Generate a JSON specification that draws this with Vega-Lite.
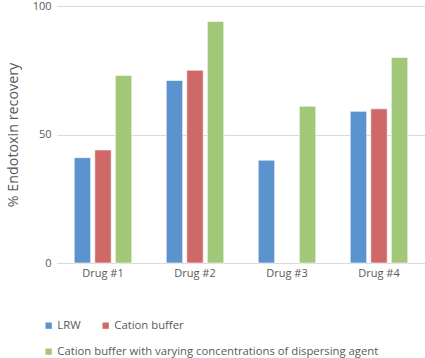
{
  "$schema": "https://vega.github.io/schema/vega-lite/v6.json",
  "width": 368,
  "height": 257,
  "autosize": {"type": "none"},
  "padding": {"left": 57, "top": 6, "right": 0, "bottom": 95},
  "background": "white",
  "config": {
    "font": "Open Sans",
    "view": {"stroke": null},
    "legend": {
      "title": null,
      "orient": "none",
      "direction": "horizontal",
      "columnPadding": 19,
      "symbolType": "square",
      "symbolSize": 40,
      "symbolStrokeWidth": 0,
      "labelColor": "#595959",
      "labelFontSize": 11.3,
      "labelOffset": 3,
      "labelLimit": 400
    }
  },
  "data": {
    "values": [
      {"drug": "Drug #1", "series": "LRW", "value": 41},
      {"drug": "Drug #1", "series": "Cation buffer", "value": 44},
      {"drug": "Drug #1", "series": "Cation buffer with varying concentrations of dispersing agent", "value": 73},
      {"drug": "Drug #2", "series": "LRW", "value": 71},
      {"drug": "Drug #2", "series": "Cation buffer", "value": 75},
      {"drug": "Drug #2", "series": "Cation buffer with varying concentrations of dispersing agent", "value": 94},
      {"drug": "Drug #3", "series": "LRW", "value": 40},
      {"drug": "Drug #3", "series": "Cation buffer with varying concentrations of dispersing agent", "value": 61},
      {"drug": "Drug #4", "series": "LRW", "value": 59},
      {"drug": "Drug #4", "series": "Cation buffer", "value": 60},
      {"drug": "Drug #4", "series": "Cation buffer with varying concentrations of dispersing agent", "value": 80}
    ]
  },
  "encoding": {
    "x": {
      "field": "drug",
      "type": "nominal",
      "scale": {"paddingInner": 0.33, "paddingOuter": 0.165},
      "axis": {
        "title": null,
        "labelAngle": 0,
        "labelColor": "#595959",
        "labelFontSize": 11,
        "labelPadding": 4,
        "ticks": false,
        "domainColor": "#D9D9D9",
        "domainWidth": 1
      }
    },
    "xOffset": {
      "field": "series",
      "type": "nominal",
      "scale": {
        "domain": ["LRW", "Cation buffer", "Cation buffer with varying concentrations of dispersing agent"],
        "paddingInner": 0.2,
        "paddingOuter": 0.1
      }
    },
    "y": {
      "field": "value",
      "type": "quantitative",
      "scale": {"domain": [0, 100]},
      "axis": {
        "title": "% Endotoxin recovery",
        "titleColor": "#595959",
        "titleFontSize": 14.3,
        "titleFontWeight": "normal",
        "titlePadding": 12,
        "values": [0, 50, 100],
        "labelColor": "#595959",
        "labelFontSize": 11,
        "labelPadding": 6,
        "ticks": false,
        "domain": false,
        "gridColor": "#D9D9D9",
        "gridWidth": 1
      }
    }
  },
  "layer": [
    {
      "transform": [{"filter": "datum.series !== 'Cation buffer with varying concentrations of dispersing agent'"}],
      "mark": {"type": "bar", "stroke": "white", "strokeWidth": 1, "strokeOpacity": 0.6},
      "encoding": {
        "color": {
          "field": "series",
          "type": "nominal",
          "scale": {
            "domain": ["LRW", "Cation buffer"],
            "range": ["#5B93CF", "#CF6967"]
          },
          "legend": {"legendX": -14, "legendY": 314}
        }
      }
    },
    {
      "transform": [{"filter": "datum.series === 'Cation buffer with varying concentrations of dispersing agent'"}],
      "mark": {"type": "bar", "stroke": "white", "strokeWidth": 1, "strokeOpacity": 0.6},
      "encoding": {
        "color": {
          "field": "series",
          "type": "nominal",
          "scale": {
            "domain": ["Cation buffer with varying concentrations of dispersing agent"],
            "range": ["#A1C779"]
          },
          "legend": {"legendX": -14, "legendY": 340}
        }
      }
    }
  ],
  "resolve": {"scale": {"color": "independent"}, "legend": {"color": "independent"}}
}
